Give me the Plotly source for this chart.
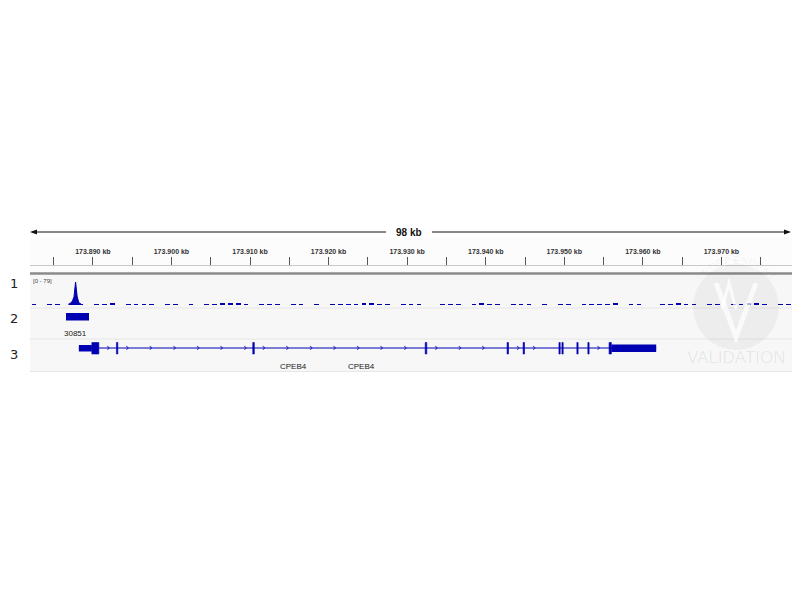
import numpy as np
import plotly.graph_objects as go

# ---------------- data ----------------
X_START, X_END = 173.882, 173.980          # visible locus (label units "kb" as in IGV)
span_label = "98 kb"

# coverage track 1 (range 0-79), background bins of 1 kb
cov_bin_start = 173.882
cov_bin_size = 0.001
cov_noise = [2, 0, 3, 1, 0, 2, 3, 0, 2, 3, 4, 0, 2, 3, 2, 1,
             0, 2, 3, 0, 2, 0, 3, 2, 4, 5, 6, 3, 0, 2, 3, 2,
             0, 3, 2, 0, 2, 0, 3, 2, 2, 3, 8, 4, 3, 2, 0, 3,
             2, 3, 0, 0, 3, 2, 2, 0, 3, 4, 3, 2, 0, 2, 3, 1,
             0, 2, 0, 3, 2, 0, 2, 3, 3, 2, 4, 0, 2, 3, 0, 0,
             2, 3, 4, 3, 2, 0, 3, 2, 0, 2, 3, 5, 4, 2, 0, 3,
             2, 3]
peak_pos = [173.8869, 173.8872, 173.8874, 173.8876, 173.8878, 173.8880, 173.8882, 173.8885]
peak_val = [3, 7, 14, 28, 79, 30, 9, 3]
cov_max = 79

# track 2 feature
feat_start, feat_end, feat_name = 173.88658, 173.88951, "30851"

# track 3 gene CPEB4
gene_name = "CPEB4"
utr5 = (173.88822, 173.88987)
cds_start = [173.88987, 173.89300, 173.91035, 173.93230, 173.94272, 173.94476,
             173.94932, 173.94970, 173.95160, 173.95300, 173.95570]
cds_end = [173.89076, 173.89318, 173.91055, 173.93250, 173.94290, 173.94494,
           173.94948, 173.94986, 173.95176, 173.95316, 173.95599]
utr3 = (173.95599, 173.96170)
gene_label_pos = [173.91550, 173.92420]

track_labels = ["1", "2", "3"]

# ---------------- styling / layout helpers ----------------
W, H = 800, 560
OFF = 8                      # page body margin offset
PX_L, PX_R = 30, 800
VIS_R = 792                  # last visible pixel column
BLUE = "rgb(0,0,178)"


def py(p):  # window pixel row -> paper y
    return 1 - (p - OFF) / H


def pxx(p):  # window pixel column -> paper x
    return (p - OFF) / W


fig = go.Figure()

# coverage background bins
bin_centers = [cov_bin_start + (i + 0.5) * cov_bin_size for i in range(len(cov_noise))]
fig.add_trace(go.Bar(x=bin_centers, y=cov_noise, width=cov_bin_size * 0.6,
                     marker=dict(color=BLUE, line=dict(width=0)),
                     xaxis="x", yaxis="y2", hoverinfo="skip", showlegend=False))
fig.add_trace(go.Scatter(x=peak_pos, y=peak_val, mode="lines", fill="tozeroy",
                         line=dict(color=BLUE, width=1), fillcolor=BLUE,
                         xaxis="x", yaxis="y2", hoverinfo="skip", showlegend=False))

shapes = []
# backgrounds
shapes.append(dict(type="rect", xref="paper", yref="y", x0=pxx(PX_L), x1=pxx(PX_R), y0=238, y1=272,
                   fillcolor="#fcfcfc", line_width=0, layer="below"))
shapes.append(dict(type="rect", xref="paper", yref="y", x0=pxx(PX_L), x1=pxx(PX_R), y0=275, y1=372,
                   fillcolor="#f7f7f7", line_width=0, layer="below"))
# thick ruler separator
shapes.append(dict(type="line", xref="paper", yref="y", x0=pxx(PX_L), x1=pxx(PX_R), y0=273.5, y1=273.5,
                   line=dict(color="#8a8a8a", width=2.5)))
# faint track separators
for yy in (308, 339, 371.5):
    shapes.append(dict(type="line", xref="paper", yref="y", x0=pxx(PX_L), x1=pxx(PX_R), y0=yy, y1=yy,
                       line=dict(color="#e6e6e6", width=1)))
# span arrow
shapes.append(dict(type="line", xref="paper", yref="y", x0=pxx(PX_L + 2), x1=pxx(386), y0=232, y1=232,
                   line=dict(color="#111", width=1)))
shapes.append(dict(type="line", xref="paper", yref="y", x0=pxx(432), x1=pxx(VIS_R - 3), y0=232, y1=232,
                   line=dict(color="#111", width=1)))
shapes.append(dict(type="path", xref="paper", yref="y",
                   path=f"M {pxx(PX_L)} 232 L {pxx(PX_L + 7)} 229.5 L {pxx(PX_L + 7)} 234.5 Z",
                   fillcolor="#111", line_width=0))
shapes.append(dict(type="path", xref="paper", yref="y",
                   path=f"M {pxx(VIS_R - 1)} 232 L {pxx(VIS_R - 8)} 229.5 L {pxx(VIS_R - 8)} 234.5 Z",
                   fillcolor="#111", line_width=0))

# track 2 feature
shapes.append(dict(type="rect", xref="x", yref="y", x0=feat_start, x1=feat_end, y0=313, y1=320.5,
                   fillcolor=BLUE, line_width=0))

# gene line
shapes.append(dict(type="line", xref="x", yref="y", x0=utr5[0], x1=utr3[1], y0=348, y1=348,
                   line=dict(color=BLUE, width=1)))
shapes.append(dict(type="rect", xref="x", yref="y", x0=utr5[0], x1=utr5[1], y0=345, y1=351.5,
                   fillcolor=BLUE, line_width=0))
shapes.append(dict(type="rect", xref="x", yref="y", x0=utr3[0], x1=utr3[1], y0=344.5, y1=352,
                   fillcolor=BLUE, line_width=0))
for s, e in zip(cds_start, cds_end):
    shapes.append(dict(type="rect", xref="x", yref="y", x0=s, x1=e, y0=342.5, y1=354,
                       fillcolor=BLUE, line=dict(color=BLUE, width=0.6)))

# strand chevrons in introns
blocks = sorted([utr5] + list(zip(cds_start, cds_end)) + [utr3])
chev_x = []
for (s0, e0), (s1, e1) in zip(blocks[:-1], blocks[1:]):
    xs = np.arange(e0 + 0.0012, s1 - 0.0006, 0.003)
    chev_x.extend(xs.tolist())
fig.add_trace(go.Scatter(x=chev_x, y=[348] * len(chev_x), mode="text", text=["›"] * len(chev_x),
                         textfont=dict(color=BLUE, size=10, family="DejaVu Sans"),
                         xaxis="x", yaxis="y", hoverinfo="skip", showlegend=False))

# watermark
cx, cy, r = 736, 307, 43
shapes.append(dict(type="circle", xref="paper", yref="y", x0=pxx(cx - r), x1=pxx(cx + r),
                   y0=cy - r, y1=cy + r, fillcolor="rgba(0,0,0,0.04)", line_width=0))
shapes.append(dict(type="path", xref="paper", yref="y",
                   path=f"M {pxx(cx - 20)} {cy - 24} L {pxx(cx)} {cy + 30} L {pxx(cx + 20)} {cy - 24}",
                   line=dict(color="rgba(255,255,255,0.7)", width=5)))
shapes.append(dict(type="path", xref="paper", yref="y",
                   path=f"M {pxx(cx - 14)} {cy + 2} L {pxx(cx - 7)} {cy - 24} L {pxx(cx)} {cy + 2}",
                   line=dict(color="rgba(255,255,255,0.7)", width=3)))

annotations = []
annotations.append(dict(text="<b>" + span_label + "</b>", xref="paper", yref="y", x=pxx(409), y=232,
                        xanchor="center", yanchor="middle", showarrow=False,
                        font=dict(size=10, color="#111", family="Liberation Sans")))
for lab, yy in zip(track_labels, (283, 318, 354)):
    annotations.append(dict(text=lab, xref="paper", yref="y", x=0, y=yy, xanchor="left",
                            yanchor="middle", showarrow=False,
                            font=dict(size=13, color="#222", family="DejaVu Sans")))
annotations.append(dict(text=f"[0 - {cov_max}]", xref="paper", yref="y", x=pxx(31), y=281, xanchor="left",
                        yanchor="middle", showarrow=False,
                        font=dict(size=6, color="#444", family="Liberation Sans")))
annotations.append(dict(text=feat_name, xref="x", yref="y", x=(feat_start + feat_end) / 2 - 0.0003, y=333,
                        xanchor="center", yanchor="middle", showarrow=False,
                        font=dict(size=8, color="#222", family="Liberation Sans")))
for gx in gene_label_pos:
    annotations.append(dict(text=gene_name, xref="x", yref="y", x=gx, y=366, xanchor="center",
                            yanchor="middle", showarrow=False,
                            font=dict(size=8, color="#222", family="Liberation Sans")))
annotations.append(dict(text="VALIDATION", xref="paper", yref="y", x=pxx(736), y=357, xanchor="center",
                        yanchor="middle", showarrow=False,
                        font=dict(size=17, color="rgba(0,0,0,0.07)", family="Liberation Sans")))
arc = "INDEPENDENT"
for i, ch in enumerate(arc):
    ang = np.deg2rad(140 - i * 10)
    annotations.append(dict(text=ch, xref="paper", yref="y",
                            x=pxx(cx + 47 * np.cos(ang)), y=cy - 47 * np.sin(ang), showarrow=False,
                            xanchor="center", yanchor="middle",
                            textangle=float(90 - np.rad2deg(ang)),
                            font=dict(size=10, color="rgba(0,0,0,0.06)", family="Liberation Sans")))

fig.update_layout(
    width=W, height=H, margin=dict(l=0, r=0, t=0, b=0),
    paper_bgcolor="white", plot_bgcolor="rgba(0,0,0,0)",
    bargap=0, showlegend=False,
    xaxis=dict(domain=[pxx(PX_L), pxx(PX_R)], range=[X_START, X_END], anchor="free", position=py(264.5),
               side="top", showline=True, linecolor="#c8c8c8", linewidth=1,
               ticks="outside", ticklen=8, tickcolor="#555", tickwidth=1,
               dtick=0.01, tick0=173.89, tickformat=".3f", ticksuffix=" kb",
               tickfont=dict(size=7, color="#333", family="Liberation Sans", weight="bold"),
               minor=dict(dtick=0.005, tick0=173.885, ticks="outside", ticklen=8,
                          tickcolor="#555", tickwidth=1, showgrid=False),
               showgrid=False, zeroline=False, fixedrange=True),
    yaxis=dict(domain=[0, 1], range=[H + OFF, OFF], visible=False, fixedrange=True),
    yaxis2=dict(domain=[py(305), py(282)], range=[0, cov_max], visible=False, anchor="x",
                fixedrange=True),
    shapes=shapes, annotations=annotations,
)

fig.write_html("out.html")
